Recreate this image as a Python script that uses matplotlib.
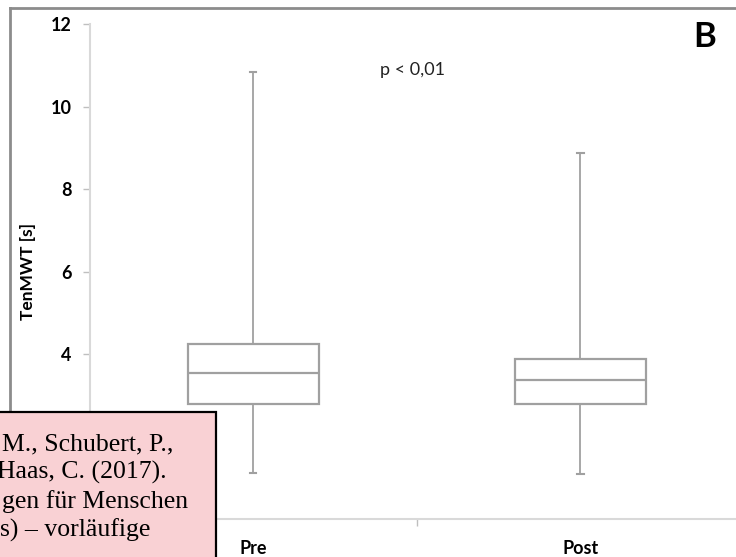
import matplotlib.pyplot as plt
from matplotlib.lines import Line2D
from matplotlib.patches import Rectangle

# box statistics (seconds)
groups = ["Pre", "Post"]
whislo = [1.12, 1.10]
q1 = [2.80, 2.80]
med = [3.55, 3.38]
q3 = [4.25, 3.89]
whishi = [10.84, 8.88]
y_ticks = [0, 2, 4, 6, 8, 10, 12]
y_tick_labels = ["", "", "4", "6", "8", "10", "12"]  # 0 and 2 sit under the note box
p_text = "p < 0,01"
panel = "B"
note_lines = ["M., Schubert, P.,", "Haas, C. (2017).", "gen für Menschen", "s) – vorläufige"]

W, H = 736, 557
fig = plt.figure(figsize=(W / 100, H / 100), dpi=100)
ax = fig.add_axes([89.5 / W, 37.7 / H, 654.5 / W, 495 / H])

stats = []
for i, g in enumerate(groups):
    stats.append({"label": g, "whislo": whislo[i], "q1": q1[i], "med": med[i],
                  "q3": q3[i], "whishi": whishi[i], "fliers": []})

gray = "#a0a0a0"
ax.bxp(stats, positions=range(len(groups)), widths=0.4, capwidths=0.02,
       showfliers=False, patch_artist=True,
       boxprops=dict(facecolor="white", edgecolor=gray, linewidth=1.6),
       medianprops=dict(color=gray, linewidth=1.6),
       whiskerprops=dict(color=gray, linewidth=1.3),
       capprops=dict(color=gray, linewidth=1.5))

ax.set_xlim(-0.5, 1.5)
ax.set_ylim(0, 12)
ax.set_yticks(y_ticks)
ax.set_yticklabels(y_tick_labels, fontfamily="Lato", fontweight="bold", fontsize=13)
ax.tick_params(axis="y", length=5, width=1, color="#bfbfbf", pad=8)

ax.set_xticks([0.5])
ax.set_xticklabels([""])
ax.set_xticks(range(len(groups)), minor=True)
ax.set_xticklabels(groups, minor=True, fontfamily="Lato", fontweight="bold", fontsize=13)
ax.tick_params(axis="x", which="major", length=5, width=1, color="#bfbfbf", direction="out")
ax.tick_params(axis="x", which="minor", length=0, pad=15)

for s in ["top", "right"]:
    ax.spines[s].set_visible(False)
for s in ["left", "bottom"]:
    ax.spines[s].set_color("#d9d9d9")
    ax.spines[s].set_linewidth(1.5)

ax.set_ylabel("TenMWT [s]", fontfamily="Lato", fontweight="bold", fontsize=12.5)
ax.yaxis.set_label_coords(-54 / 654.5, (557 - 272 - 37.7) / 495)

fig.text(413 / W, 1 - 70 / H, p_text, fontfamily="Lato", fontsize=13, ha="center", va="center", color="#222222")
fig.text(705 / W, 1 - 37 / H, panel, fontfamily="Lato", fontweight="bold", fontsize=25, ha="center", va="center")

# outer frame
fig.add_artist(Line2D([10 / W, 10 / W], [0, 1 - 8 / H], transform=fig.transFigure, color="#8c8c8c", lw=2))
fig.add_artist(Line2D([10 / W, 1], [1 - 8 / H, 1 - 8 / H], transform=fig.transFigure, color="#8c8c8c", lw=2))

# pink note box overlapping the lower left corner, text runs off its left edge
fig.add_artist(Rectangle((-10 / W, -10 / H), 226 / W, (557 - 412 + 10) / H, transform=fig.transFigure,
                         facecolor="#f9d1d4", edgecolor="black", lw=1.6, zorder=10))
right_x = [173, 167, 188, 150]
base_y = [450, 479, 508, 537]
for line, rx, by in zip(note_lines, right_x, base_y):
    fig.text(rx / W, 1 - by / H, line, fontfamily="Liberation Serif", fontsize=18.5,
             ha="right", va="baseline", zorder=11)

fig.savefig("out.png", dpi=100)
